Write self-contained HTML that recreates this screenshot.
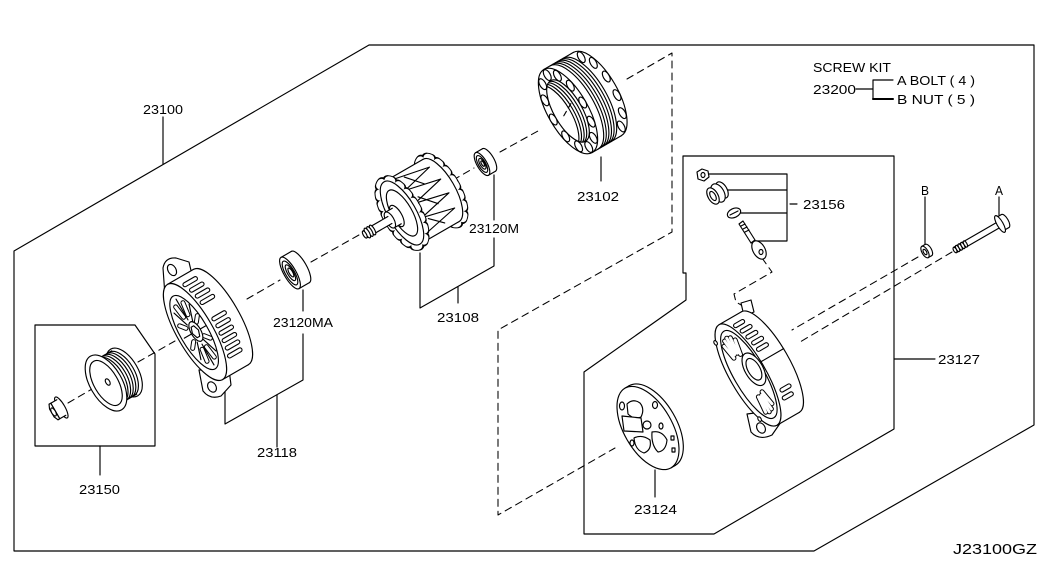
<!DOCTYPE html>
<html><head><meta charset="utf-8">
<style>
html,body{margin:0;padding:0;background:#fff;}
svg{display:block;}
text{font-family:"Liberation Sans",sans-serif;font-size:13px;fill:#000;stroke:none;}
</style></head><body>
<svg width="1045" height="572" viewBox="0 0 1045 572" xmlns="http://www.w3.org/2000/svg">
<defs>
<clipPath id="statorBore"><ellipse cx="0" cy="0" rx="14" ry="35"/></clipPath>
</defs>
<rect width="1045" height="572" fill="#fff"/>
<g fill="none" stroke="#000" stroke-width="1.15" stroke-linejoin="round" stroke-linecap="round">

<!-- outer frame -->
<path d="M14,251 L369,45 L1034,45 L1034,425 L814,551 L14,551 Z"/>
<!-- pulley box -->
<path d="M35,325 L135,325 L155,354 L155,446 L35,446 Z"/>
<!-- right box 23127 -->
<path d="M683,156 L894,156 L894,429 L714,534 L584,534 L584,372 L686,300 L686,273 L683,273 Z"/>

<!-- dashed axis lines -->
<g stroke-dasharray="7 5" stroke-width="1.05">
<path d="M68,403 L92,389"/>
<path d="M138,362 L175,341"/>
<path d="M247,299 L280,280"/>
<path d="M311,262 L366,231"/>
<path d="M453,180 L474,168"/>
<path d="M500,152 L538,131"/>
<path d="M627,79 L672,53 L672,232 L498,330 L498,515 L615,448"/>
<path d="M918,257 L792,330"/>
<path d="M952,252 L800,342"/>
<path d="M762,258 L772,272 L734,294 L736,302 L746,308"/>
</g>

<!-- leaders -->
<path d="M163,117 L163,164"/>
<path d="M100,446 L100,475"/>
<path d="M225,390 L225,424 L303,380 L303,334"/>
<path d="M277,395 L277,447"/>
<path d="M303,290 L303,311"/>
<path d="M420,253 L420,308 L494,266 L494,238"/>
<path d="M458,287 L458,303"/>
<path d="M494,175 L494,220"/>
<path d="M601,157 L601,181"/>
<path d="M655,470 L655,497"/>
<path d="M894,359 L935,359"/>
<path d="M790,204 L797,204"/>
<path d="M708,174 L787,174 M713,190 L787,190 M740,213 L787,213 M750,241 L787,241 M787,174 L787,241"/>
<path d="M925,197 L925,245"/>
<path d="M999,197 L999,215"/>
<path d="M856,89 L873,89 M893,80 L873,80 L873,99"/>
<path d="M873,99 L893,99" stroke-width="2"/>

<!-- ===== pulley nut ===== -->
<g transform="translate(57,410) rotate(-30)" fill="#fff">
  <ellipse cx="5" cy="0" rx="3.5" ry="12"/>
  <rect x="-4" y="-9" width="9" height="18" stroke="none"/>
  <path d="M-4,-9 L5,-9 M-4,9 L5,9 M-2,-9 L-2,9" fill="none"/>
  <path d="M-4,-9 L-6,-4.5 L-6,4.5 L-4,9 L-2,9 L-2,-9 Z"/>
  <ellipse cx="-4" cy="0" rx="2" ry="4.5"/>
</g>

<!-- ===== pulley 23150 ===== -->
<g transform="translate(106,383) rotate(-30)" fill="#fff">
  <ellipse cx="21" cy="0" rx="14" ry="27"/>
  <rect x="0" y="-25" width="21" height="50" stroke="none"/>
  <path d="M0,-25 L21,-25 M0,25 L21,25" fill="none"/>
  <path d="M6,-25 A13,25 0 0 1 6,25 M9,-25 A13,25 0 0 1 9,25 M12,-25 A13,25 0 0 1 12,25 M15,-25 A13,25 0 0 1 15,25 M18,-25 A13,25 0 0 1 18,25" fill="none"/>
  <ellipse cx="0" cy="0" rx="16" ry="31"/>
  <ellipse cx="0" cy="0" rx="12" ry="25"/>
  <ellipse cx="2" cy="0" rx="2" ry="3.5"/>
</g>

<!-- ===== front housing 23118 ===== -->
<path d="M165,296 L163,268 Q165,257 176,258 L189,262 L193,279 L181,292 Z" fill="#fff"/>
<ellipse cx="172" cy="270" rx="4" ry="6" transform="rotate(-30 172 270)" fill="#fff"/>
<path d="M199,370 L203,391 Q210,400 221,396 L231,385 L229,369 Z" fill="#fff"/>
<ellipse cx="212" cy="387" rx="4" ry="5.5" transform="rotate(-30 212 387)" fill="#fff"/>
<g transform="translate(195,332) rotate(-30)" fill="#fff">
  <ellipse cx="30" cy="0" rx="18" ry="55"/>
  <rect x="0" y="-55" width="30" height="110" stroke="none"/>
  <path d="M0,-55 L30,-55 M0,55 L30,55" fill="none"/>
  <g fill="none">
    <g stroke-width="5.2"><path d="M15,-46 L27,-46 M18,-38 L30,-38 M20,-30 L32,-30 M21,-22 L33,-22 M23,-2 L35,-2 M23,6 L35,6 M22,14 L34,14 M21,22 L33,22 M20,30 L32,30 M18,38 L30,38"/></g>
    <g stroke-width="3" stroke="#fff"><path d="M15,-46 L27,-46 M18,-38 L30,-38 M20,-30 L32,-30 M21,-22 L33,-22 M23,-2 L35,-2 M23,6 L35,6 M22,14 L34,14 M21,22 L33,22 M20,30 L32,30 M18,38 L30,38"/></g>
  </g>
  <ellipse cx="0" cy="0" rx="18" ry="55"/>
  <ellipse cx="-1" cy="0" rx="14" ry="42"/>
  <path d="M4.5,0 L12.3,0 M3.2,9.9 L8.7,26.9 M0,14 L0,38 M-3.2,9.9 L-8.7,26.9 M-4.5,0 L-12.3,0 M-3.2,-9.9 L-8.7,-26.9 M0,-14 L0,-38 M3.2,-9.9 L8.7,-26.9" fill="none"/>
  <g fill="none">
    <g stroke-width="5"><path d="M6,7.7 L10.2,13 M2.5,18.5 L4.2,31.4 M-2.5,18.5 L-4.2,31.4 M-6,7.7 L-10.2,13 M-6,-7.7 L-10.2,-13 M-2.5,-18.5 L-4.2,-31.4 M2.5,-18.5 L4.2,-31.4 M6,-7.7 L10.2,-13"/></g>
    <g stroke-width="3" stroke="#fff"><path d="M6,7.7 L10.2,13 M2.5,18.5 L4.2,31.4 M-2.5,18.5 L-4.2,31.4 M-6,7.7 L-10.2,13 M-6,-7.7 L-10.2,-13 M-2.5,-18.5 L-4.2,-31.4 M2.5,-18.5 L4.2,-31.4 M6,-7.7 L10.2,-13"/></g>
  </g>
  <ellipse cx="1" cy="0" rx="5" ry="11"/>
  <path d="M-1,-6 L2,-6 L4,0 L2,6 L-1,6 L-3,0 Z"/>
</g>

<!-- ===== bearing 23120MA ===== -->
<g transform="translate(290,273) rotate(-30)" fill="#fff">
  <ellipse cx="12" cy="0" rx="6" ry="18"/>
  <rect x="0" y="-18" width="12" height="36" stroke="none"/>
  <path d="M0,-18 L12,-18 M0,18 L12,18" fill="none"/>
  <ellipse cx="0" cy="0" rx="6" ry="18"/>
  <ellipse cx="0" cy="0" rx="4.5" ry="13.5"/>
  <ellipse cx="0.5" cy="0" rx="3" ry="9"/>
  <ellipse cx="1" cy="0" rx="1.8" ry="5"/>
</g>

<!-- ===== rotor 23108 ===== -->
<g transform="translate(402,213) rotate(-30)">
  <ellipse cx="45" cy="0" rx="15" ry="37" stroke-width="10" stroke-dasharray="5 6"/>
  <ellipse cx="45" cy="0" rx="15" ry="37" stroke-width="8" stroke="#fff" stroke-dasharray="3 8" stroke-dashoffset="-1"/>
  <ellipse cx="45" cy="0" rx="14" ry="36" fill="#fff"/>
  <rect x="0" y="-36" width="45" height="72" fill="#fff" stroke="none"/>
  <path d="M0,-36 L45,-36 M0,36 L45,36"/>
  <path d="M6.6,-34 L46.7,-26 L14.1,-18 L50.5,-10 L16,-2 L50.8,6 L14.9,14 L48.1,22 L9.7,30"/>
  <path d="M20,-30 L34,-14 M22,-6 L36,10 M20,18 L32,30"/>
  <ellipse cx="0" cy="0" rx="15" ry="37" stroke-width="10" stroke-dasharray="5 6"/>
  <ellipse cx="0" cy="0" rx="15" ry="37" stroke-width="8" stroke="#fff" stroke-dasharray="3 8" stroke-dashoffset="-1"/>
  <ellipse cx="0" cy="0" rx="14" ry="36" fill="#fff"/>
  <ellipse cx="0" cy="0" rx="10" ry="26"/>
  <ellipse cx="-6" cy="0" rx="5" ry="12" fill="#fff"/>
  <rect x="-14" y="-9" width="8" height="18" fill="#fff" stroke="none"/>
  <path d="M-14,-9 L-6,-9 M-14,9 L-6,9"/>
  <ellipse cx="-14" cy="0" rx="4" ry="9" fill="#fff"/>
  <rect x="-42" y="-4" width="28" height="8" fill="#fff" stroke="none"/>
  <path d="M-42,-4 L-14,-4 M-42,4 L-14,4"/>
  <ellipse cx="-34" cy="0" rx="2" ry="5.5" fill="#fff"/>
  <ellipse cx="-37" cy="0" rx="2" ry="5.5" fill="#fff"/>
  <ellipse cx="-40" cy="0" rx="2" ry="5.5" fill="#fff"/>
  <ellipse cx="-43" cy="0" rx="1.6" ry="4" fill="#fff"/>
</g>

<!-- ===== bearing 23120M ===== -->
<g transform="translate(482,164) rotate(-30)" fill="#fff">
  <ellipse cx="8" cy="0" rx="5" ry="13"/>
  <rect x="0" y="-13" width="8" height="26" stroke="none"/>
  <path d="M0,-13 L8,-13 M0,13 L8,13" fill="none"/>
  <ellipse cx="0" cy="0" rx="5" ry="13"/>
  <ellipse cx="0" cy="0" rx="3.6" ry="9.5"/>
  <ellipse cx="0.4" cy="0" rx="2.4" ry="6"/>
  <ellipse cx="0.8" cy="0" rx="1.2" ry="3"/>
</g>

<!-- ===== stator 23102 ===== -->
<g transform="translate(568,111) rotate(-30)">
  <ellipse cx="34" cy="0" rx="20" ry="48" fill="#fff"/>
  <rect x="0" y="-48" width="34" height="96" fill="#fff" stroke="none"/>
  <path d="M0,-48 L34,-48 M0,48 L34,48"/>
  <path d="M7,-48 A20,48 0 0 1 7,48 M10,-48 A20,48 0 0 1 10,48 M13,-48 A20,48 0 0 1 13,48 M16,-48 A20,48 0 0 1 16,48 M19,-48 A20,48 0 0 1 19,48 M22,-48 A20,48 0 0 1 22,48"/>
  <g fill="#fff">
    <ellipse cx="38.4" cy="-40" rx="3" ry="6"/>
    <ellipse cx="46" cy="-29" rx="3" ry="6"/>
    <ellipse cx="50.4" cy="-10.7" rx="3" ry="6"/>
    <ellipse cx="50.4" cy="10.7" rx="3" ry="6"/>
    <ellipse cx="46" cy="29" rx="3" ry="6"/>
    <ellipse cx="38.4" cy="40" rx="3" ry="6"/>
  </g>
  <ellipse cx="0" cy="0" rx="20" ry="48" fill="#fff"/>
  <ellipse cx="0" cy="0" rx="14" ry="35" fill="#fff"/>
  <g clip-path="url(#statorBore)">
    <path d="M-12,-35 A14,35 0 0 1 -12,35 M-9,-35 A14,35 0 0 1 -9,35 M-6,-35 A14,35 0 0 1 -6,35 M-3,-35 A14,35 0 0 1 -3,35"/>
    <path d="M-6,2 L8,-6" stroke-dasharray="5 4"/>
  </g>
  <g fill="#fff">
    <ellipse cx="17" cy="0" rx="3" ry="6"/>
    <ellipse cx="14.7" cy="20.8" rx="3" ry="6"/>
    <ellipse cx="8.5" cy="35.9" rx="3" ry="6"/>
    <ellipse cx="0" cy="41.5" rx="3" ry="6"/>
    <ellipse cx="-8.5" cy="35.9" rx="3" ry="6"/>
    <ellipse cx="-14.7" cy="20.8" rx="3" ry="6"/>
    <ellipse cx="-17" cy="0" rx="3" ry="6"/>
    <ellipse cx="-14.7" cy="-20.8" rx="3" ry="6"/>
    <ellipse cx="-8.5" cy="-35.9" rx="3" ry="6"/>
    <ellipse cx="0" cy="-41.5" rx="3" ry="6"/>
    <ellipse cx="8.5" cy="-35.9" rx="3" ry="6"/>
    <ellipse cx="14.7" cy="-20.8" rx="3" ry="6"/>
  </g>
</g>

<!-- ===== 23156 small parts ===== -->
<g fill="#fff">
  <path d="M697,172 L702,169 L708,171 L709,177 L704,181 L698,179 Z"/>
  <ellipse cx="703" cy="175" rx="2" ry="2.5"/>
  <ellipse cx="722" cy="190" rx="5" ry="9" transform="rotate(-30 722 190)"/>
  <ellipse cx="718" cy="193" rx="6" ry="10" transform="rotate(-30 718 193)"/>
  <ellipse cx="713" cy="196" rx="5" ry="9" transform="rotate(-30 713 196)"/>
  <ellipse cx="713" cy="196" rx="2.5" ry="5" transform="rotate(-30 713 196)"/>
  <ellipse cx="734" cy="213" rx="7" ry="4.5" transform="rotate(-25 734 213)"/>
  <path d="M730,215 L738,211" fill="none"/>
  <path d="M739,224 L743,221 L755,240 L751,243 Z"/>
  <path d="M741,226 L745,224 M743,229 L747,227 M745,232 L749,230" fill="none"/>
  <ellipse cx="759" cy="250" rx="6" ry="10" transform="rotate(-30 759 250)"/>
  <ellipse cx="761" cy="252" rx="2" ry="2.5"/>
</g>

<!-- ===== rear housing 23127 ===== -->
<path d="M741,303 L751,300 L754,312 L744,316 Z" fill="#fff"/>
<path d="M747,414 L751,432 Q759,441 772,435 L781,422 L777,410 Z" fill="#fff"/>
<ellipse cx="761" cy="428" rx="4" ry="5.5" transform="rotate(-30 761 428)" fill="#fff"/>
<g transform="translate(748,375) rotate(-30)" fill="#fff">
  <ellipse cx="26" cy="0" rx="18" ry="58"/>
  <rect x="0" y="-58" width="26" height="116" stroke="none"/>
  <path d="M0,-58 L26,-58 M0,58 L26,58" fill="none"/>
  <g fill="none">
    <g stroke-width="5.2"><path d="M14,-49 L22,-49 M17,-41 L26,-41 M19,-33 L28,-33 M21,-25 L30,-25 M22,-17 L31,-17 M22,30 L30,30 M20,38 L28,38"/></g>
    <g stroke-width="3" stroke="#fff"><path d="M14,-49 L22,-49 M17,-41 L26,-41 M19,-33 L28,-33 M21,-25 L30,-25 M22,-17 L31,-17 M22,30 L30,30 M20,38 L28,38"/></g>
  </g>
  <path d="M18,-5 L44,-5" fill="none"/>
  <ellipse cx="0" cy="0" rx="18" ry="58"/>
  <ellipse cx="1" cy="0" rx="15" ry="50"/>
  <g fill="none">
    <g stroke-width="5"><path d="M-3.8,-21.6 L-6.4,-36.8 M-1.9,-24.1 L-3.3,-41.1 M0,-25 L0,-42.5 M1.9,-24.1 L3.3,-41.1 M3.8,-21.6 L6.4,-36.8 M3.8,21.6 L6.4,36.8 M1.9,24.1 L3.3,41.1 M0,25 L0,42.5 M-1.9,24.1 L-3.3,41.1"/></g>
    <g stroke-width="3" stroke="#fff"><path d="M-3.8,-21.6 L-6.4,-36.8 M-1.9,-24.1 L-3.3,-41.1 M0,-25 L0,-42.5 M1.9,-24.1 L3.3,-41.1 M3.8,-21.6 L6.4,-36.8 M3.8,21.6 L6.4,36.8 M1.9,24.1 L3.3,41.1 M0,25 L0,42.5 M-1.9,24.1 L-3.3,41.1"/></g>
  </g>
  <ellipse cx="8" cy="-2" rx="9" ry="18"/>
  <ellipse cx="8" cy="-2" rx="6" ry="12"/>
  <ellipse cx="-12" cy="-44" rx="1.5" ry="2.5"/>
  <ellipse cx="-12" cy="44" rx="1.5" ry="2.5"/>
</g>

<!-- ===== plate 23124 ===== -->
<g transform="translate(648,428) rotate(-30)" fill="#fff">
  <ellipse cx="5" cy="0" rx="24" ry="46"/>
  <rect x="0" y="-46" width="5" height="92" stroke="none"/>
  <path d="M0,-46 L5,-46 M0,46 L5,46" fill="none"/>
  <ellipse cx="0" cy="0" rx="24" ry="46"/>
</g>
<g fill="#fff">
  <ellipse cx="622" cy="406" rx="2.5" ry="4"/>
  <path d="M627,404 Q633,398 640,403 Q645,409 641,417 Q634,420 628,414 Z"/>
  <ellipse cx="655" cy="405" rx="2.5" ry="3.5"/>
  <path d="M622,416 L641,418 L643,432 L624,431 Z"/>
  <ellipse cx="647" cy="425" rx="4" ry="4"/>
  <path d="M634,438 Q642,434 650,440 Q652,450 644,453 Q635,450 634,438 Z"/>
  <path d="M652,432 Q662,430 667,440 Q666,451 658,452 Q651,445 652,432 Z"/>
  <ellipse cx="661" cy="426" rx="2" ry="3"/>
  <ellipse cx="632" cy="443" rx="2" ry="3"/>
  <rect x="671" y="436" width="3" height="4"/>
  <rect x="672" y="448" width="3" height="4"/>
</g>

<!-- ===== nut B ===== -->
<g transform="translate(925,252) rotate(-30)" fill="#fff">
  <ellipse cx="4" cy="0" rx="3" ry="6.5"/>
  <rect x="0" y="-6.5" width="4" height="13" stroke="none"/>
  <path d="M0,-6.5 L4,-6.5 M0,6.5 L4,6.5" fill="none"/>
  <ellipse cx="0" cy="0" rx="3" ry="6.5"/>
  <ellipse cx="0" cy="0" rx="1.5" ry="3"/>
</g>

<!-- ===== bolt A ===== -->
<g transform="translate(955,250) rotate(-30)" fill="#fff">
  <rect x="0" y="-3" width="52" height="6" stroke="none"/>
  <path d="M0,-3 L52,-3 M0,3 L52,3" fill="none"/>
  <ellipse cx="3" cy="0" rx="1.5" ry="3.5"/>
  <ellipse cx="6" cy="0" rx="1.5" ry="3.5"/>
  <ellipse cx="9" cy="0" rx="1.5" ry="3.5"/>
  <ellipse cx="12" cy="0" rx="1.5" ry="3.5"/>
  <ellipse cx="0" cy="0" rx="1.5" ry="3"/>
  <ellipse cx="58" cy="0" rx="3" ry="7.5"/>
  <rect x="53" y="-7.5" width="5" height="15" stroke="none"/>
  <path d="M53,-7.5 L58,-7.5 M53,7.5 L58,7.5" fill="none"/>
  <ellipse cx="52" cy="0" rx="3" ry="9.5"/>
</g>

</g>

<!-- ===== text ===== -->
<g>
<text x="143" y="114" textLength="40" lengthAdjust="spacingAndGlyphs">23100</text>
<text x="79" y="494" textLength="41" lengthAdjust="spacingAndGlyphs">23150</text>
<text x="257" y="457" textLength="40" lengthAdjust="spacingAndGlyphs">23118</text>
<text x="273" y="327" textLength="60" lengthAdjust="spacingAndGlyphs">23120MA</text>
<text x="437" y="322" textLength="42" lengthAdjust="spacingAndGlyphs">23108</text>
<text x="469" y="233" textLength="50" lengthAdjust="spacingAndGlyphs">23120M</text>
<text x="577" y="201" textLength="42" lengthAdjust="spacingAndGlyphs">23102</text>
<text x="803" y="209" textLength="42" lengthAdjust="spacingAndGlyphs">23156</text>
<text x="938" y="364" textLength="42" lengthAdjust="spacingAndGlyphs">23127</text>
<text x="634" y="514" textLength="43" lengthAdjust="spacingAndGlyphs">23124</text>
<text x="813" y="72" textLength="78" lengthAdjust="spacingAndGlyphs">SCREW KIT</text>
<text x="813" y="94" textLength="43" lengthAdjust="spacingAndGlyphs">23200</text>
<text x="897" y="85" textLength="78" lengthAdjust="spacingAndGlyphs">A BOLT ( 4 )</text>
<text x="897" y="104" textLength="78" lengthAdjust="spacingAndGlyphs">B NUT   ( 5 )</text>
<text x="921" y="195" textLength="8" lengthAdjust="spacingAndGlyphs">B</text>
<text x="995" y="195" textLength="8" lengthAdjust="spacingAndGlyphs">A</text>
<text x="953" y="554" textLength="84" lengthAdjust="spacingAndGlyphs" style="font-size:15px">J23100GZ</text>
</g>
</svg>
</body></html>
